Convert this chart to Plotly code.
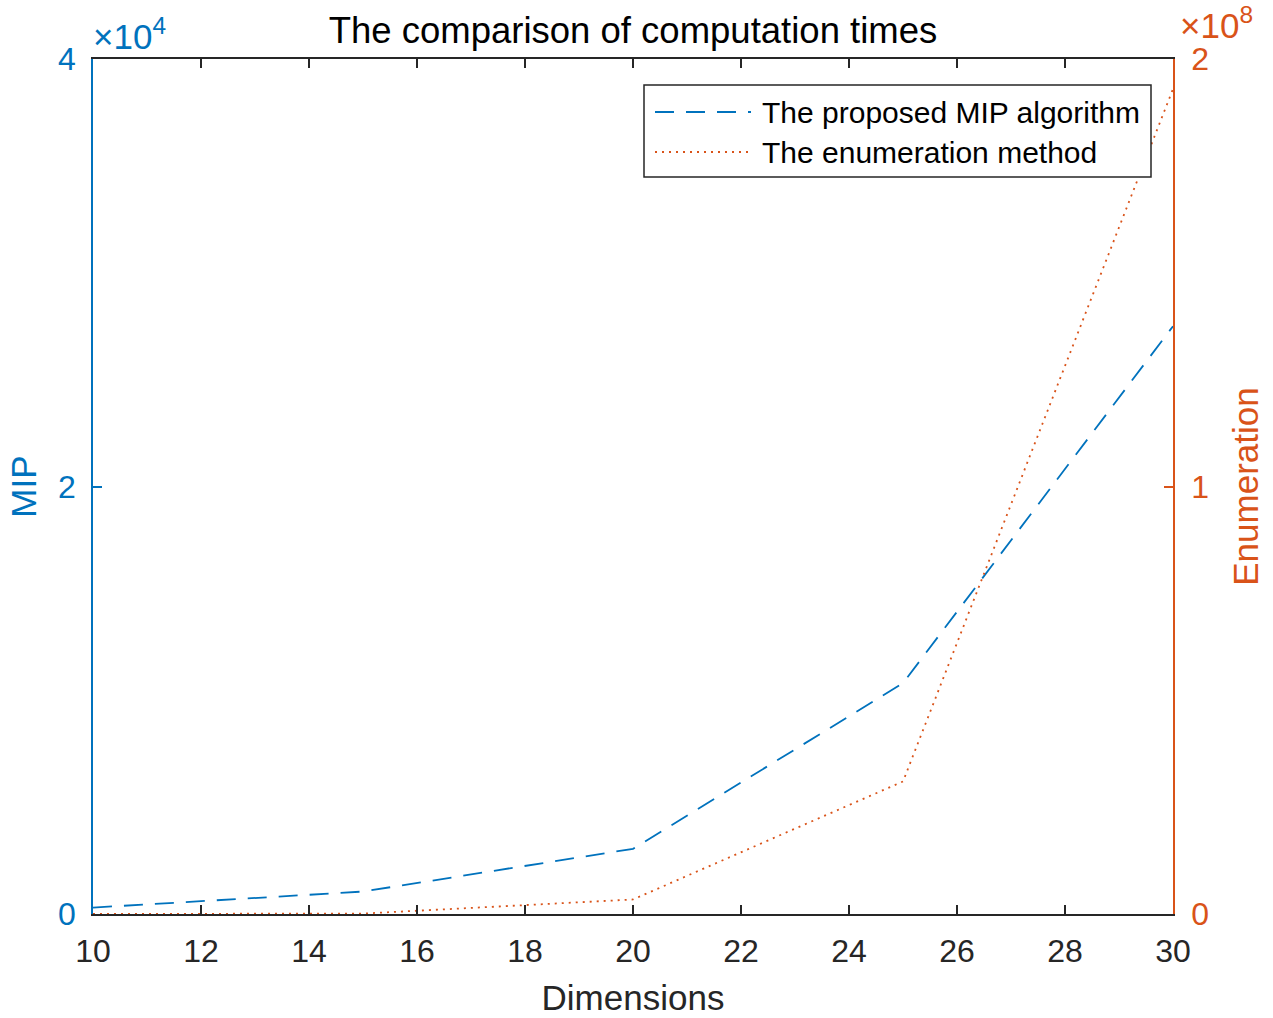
import plotly.graph_objects as go

# ---- data ----
dimensions = [10, 15, 20, 25, 30]
mip_times = [300, 1050, 3050, 10800, 27500]
enum_times = [3e3, 1e5, 3.4e6, 3.1e7, 1.93e8]

x_ticks = [10, 12, 14, 16, 18, 20, 22, 24, 26, 28, 30]
left_tickvals = [0, 20000, 40000]
left_ticktext = ["0", "2", "4"]
right_tickvals = [0, 1e8, 2e8]
right_ticktext = ["0", "1", "2"]

series_names = ["The proposed MIP algorithm", "The enumeration method"]

BLUE = "#0072BD"
ORANGE = "#D95319"
DARK = "#262626"
FONT = "Liberation Sans, Arial, sans-serif"

W, H = 1273, 1018
L, R, T, B = 93, 100, 59, 104
PW, PH = W - L - R, H - T - B


def px(xp):
    return (xp - L) / PW


def py(yp):
    return (T + PH - yp) / PH


fig = go.Figure()
fig.add_trace(go.Scatter(
    x=dimensions, y=mip_times, mode="lines", name=series_names[0],
    line=dict(color=BLUE, width=1.8, dash="19px,12px"),
    yaxis="y", showlegend=False))
fig.add_trace(go.Scatter(
    x=dimensions, y=enum_times, mode="lines", name=series_names[1],
    line=dict(color=ORANGE, width=1.8, dash="2px,5px"),
    yaxis="y2", showlegend=False))

shapes = []
# legend box
shapes.append(dict(type="rect", xref="paper", yref="paper",
                   x0=px(644), x1=px(1151), y0=py(177), y1=py(85),
                   line=dict(color=DARK, width=1.5), fillcolor="white",
                   layer="above"))
shapes.append(dict(type="line", xref="paper", yref="paper",
                   x0=px(655), x1=px(751), y0=py(112), y1=py(112),
                   line=dict(color=BLUE, width=1.8, dash="19px,12px"),
                   layer="above"))
shapes.append(dict(type="line", xref="paper", yref="paper",
                   x0=px(655), x1=px(751), y0=py(152), y1=py(152),
                   line=dict(color=ORANGE, width=1.8, dash="2px,5px"),
                   layer="above"))

annotations = [
    dict(text=series_names[0], xref="paper", yref="paper", x=px(760), y=py(112),
         xanchor="left", yanchor="middle", showarrow=False,
         font=dict(family=FONT, size=30, color="black")),
    dict(text=series_names[1], xref="paper", yref="paper", x=px(760), y=py(152),
         xanchor="left", yanchor="middle", showarrow=False,
         font=dict(family=FONT, size=30, color="black")),
    dict(text="×10<sup>4</sup>", xref="paper", yref="paper", x=px(91), y=py(34),
         xanchor="left", yanchor="middle", showarrow=False,
         font=dict(family=FONT, size=35, color=BLUE)),
    dict(text="×10<sup>8</sup>", xref="paper", yref="paper", x=px(1178), y=py(23),
         xanchor="left", yanchor="middle", showarrow=False,
         font=dict(family=FONT, size=35, color=ORANGE)),
]

fig.update_layout(
    width=W, height=H,
    margin=dict(l=L, r=R, t=T, b=B),
    paper_bgcolor="white", plot_bgcolor="white",
    font=dict(family=FONT, color=DARK),
    title=dict(text="The comparison of computation times", x=0.5, xref="paper",
               y=1 - 30 / H, yref="container", xanchor="center", yanchor="middle",
               font=dict(family=FONT, size=36.5, color="black")),
    xaxis=dict(range=[10, 30], tickvals=x_ticks, ticks="inside", ticklen=9,
               tickwidth=1.5, tickcolor=DARK, showline=True, linecolor=DARK,
               linewidth=1.5, mirror="ticks", showgrid=False, zeroline=False,
               ticklabelstandoff=8, automargin=False,
               tickfont=dict(family=FONT, size=32, color=DARK),
               title=dict(text="Dimensions", standoff=17,
                          font=dict(family=FONT, size=35, color=DARK))),
    yaxis=dict(range=[0, 40000], tickvals=left_tickvals, ticktext=left_ticktext,
               ticks="inside", ticklen=9, tickwidth=1.5, tickcolor=BLUE,
               showline=True, linecolor=BLUE, linewidth=1.5, showgrid=False,
               zeroline=False, ticklabelstandoff=9, automargin=False,
               tickfont=dict(family=FONT, size=32, color=BLUE),
               title=dict(text="MIP", standoff=11,
                          font=dict(family=FONT, size=35, color=BLUE))),
    yaxis2=dict(range=[0, 2e8], tickvals=right_tickvals, ticktext=right_ticktext,
                overlaying="y", side="right", anchor="x",
                ticks="inside", ticklen=9, tickwidth=1.5, tickcolor=ORANGE,
                showline=True, linecolor=ORANGE, linewidth=1.5, showgrid=False,
                zeroline=False, ticklabelstandoff=10, automargin=False,
                tickfont=dict(family=FONT, size=32, color=ORANGE),
                title=dict(text="Enumeration", standoff=26,
                           font=dict(family=FONT, size=35, color=ORANGE))),
    shapes=shapes,
    annotations=annotations,
    showlegend=False,
)

fig.write_html("out.html")
